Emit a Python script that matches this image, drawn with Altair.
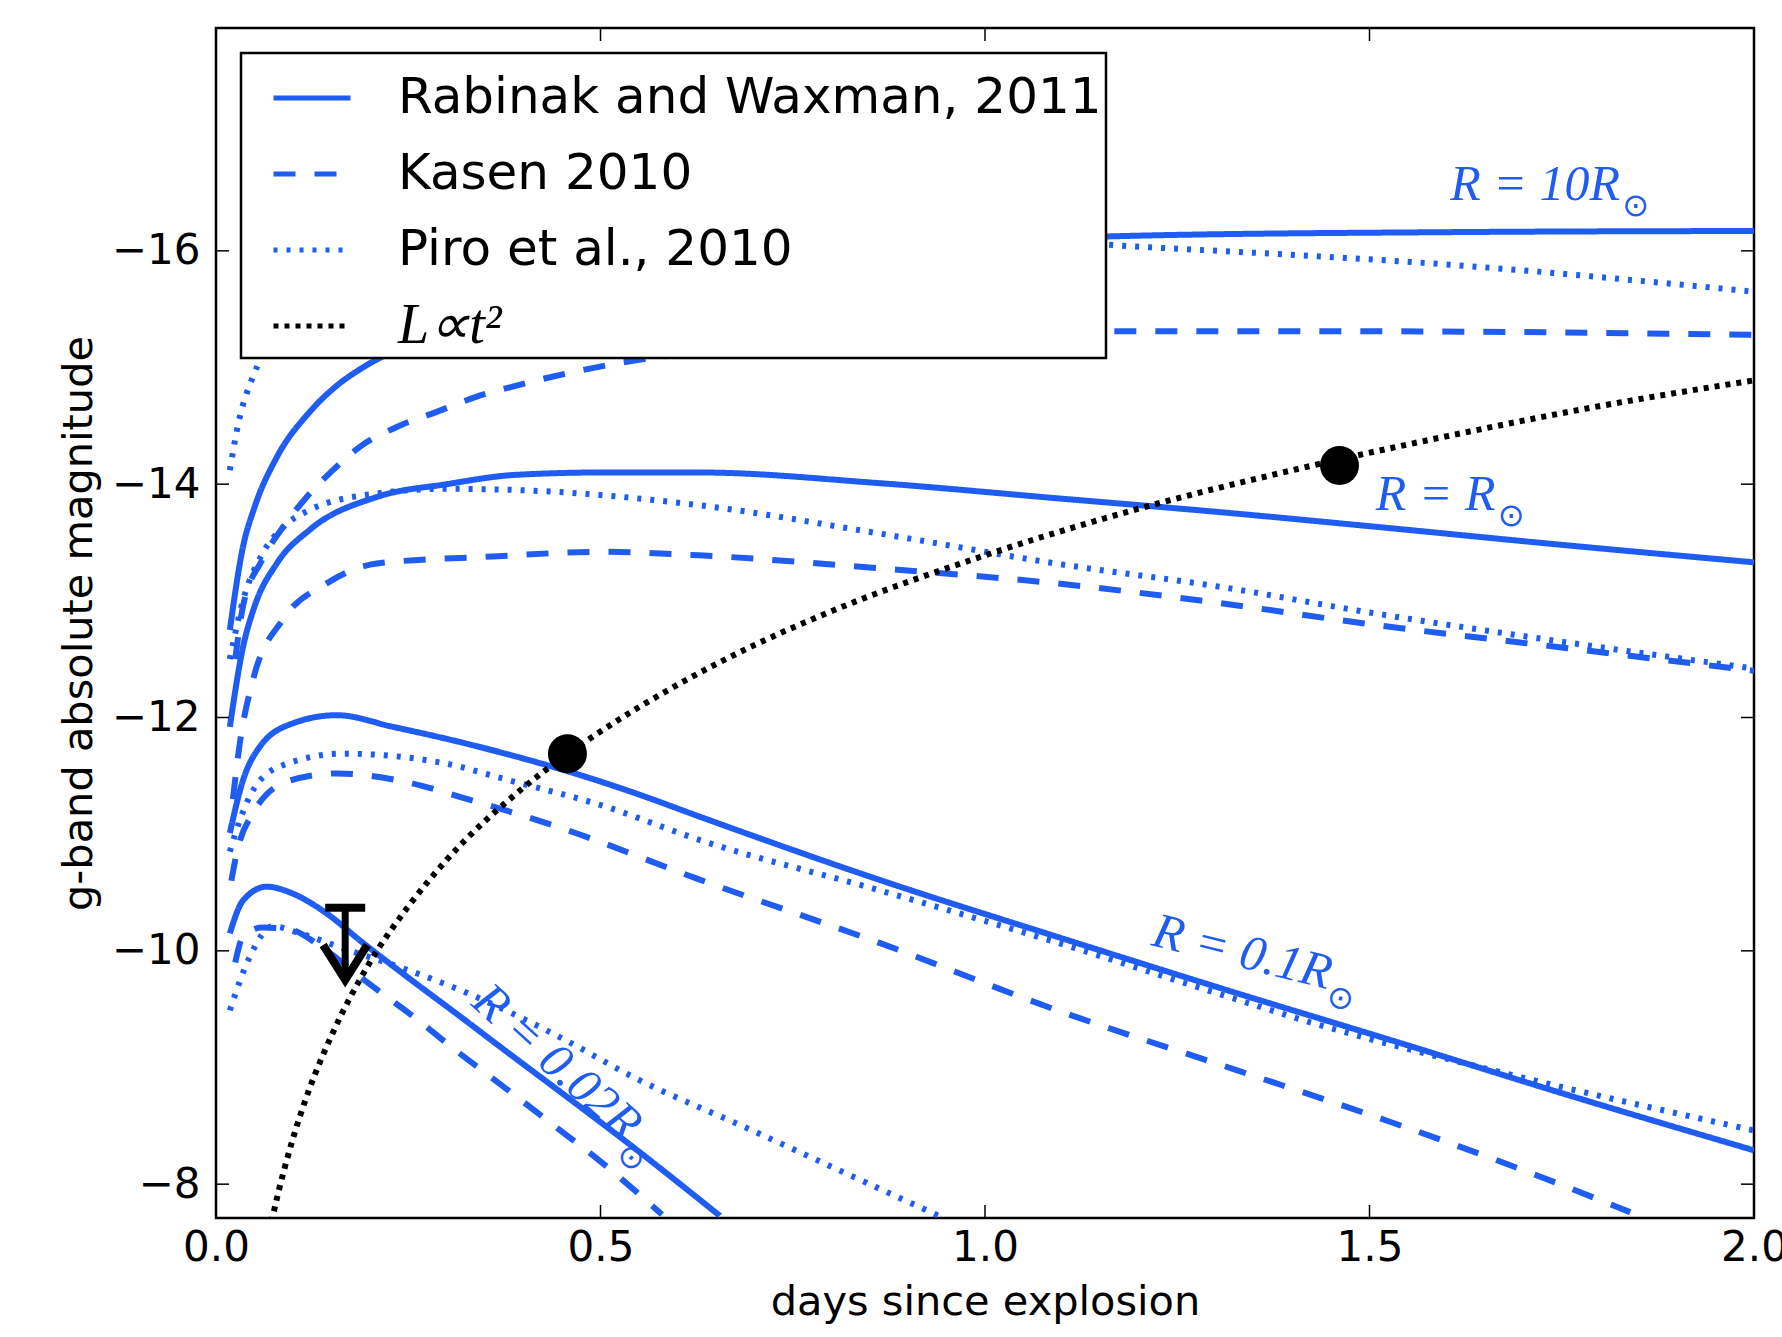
import altair as alt
import pandas as pd

BLUE = "#1f5cf2"

models = ["Rabinak and Waxman, 2011", "Kasen 2010", "Piro et al., 2010", "L∝t²"]
model_colors = [BLUE, BLUE, BLUE, "black"]
model_dashes = [[1, 0], [22, 19], [4, 9], [5, 6]]

x_ticks = [0.0, 0.5, 1.0, 1.5, 2.0]
y_ticks = [-16, -14, -12, -10, -8]

# ---- R = 10 R_sun
rw10_t = [0.018, 0.035, 0.05, 0.079, 0.122, 0.16, 0.191, 0.25, 0.3, 0.45, 0.65, 0.9, 1.2, 1.6, 2.0]
rw10_m = [-12.75, -13.46, -13.8, -14.23, -14.62, -14.86, -15.0, -15.2, -15.35, -15.68, -15.92, -16.05, -16.13, -16.16, -16.17]
ka10_t = [0.025, 0.035, 0.06, 0.087, 0.118, 0.152, 0.187, 0.235, 0.287, 0.339, 0.382, 0.517, 0.7, 0.9, 1.175, 1.5, 2.0]
ka10_m = [-12.5, -12.95, -13.35, -13.63, -13.89, -14.12, -14.32, -14.49, -14.62, -14.75, -14.83, -15.03, -15.18, -15.27, -15.31, -15.31, -15.28]
pi10_t = [0.018, 0.03, 0.048, 0.06, 0.1, 0.2, 0.4, 0.7, 1.0, 1.215, 1.607, 2.0]
pi10_m = [-14.12, -14.55, -14.92, -15.1, -15.45, -15.8, -16.0, -16.1, -16.1, -16.03, -15.88, -15.65]

# ---- R = R_sun
rw1_t = [0.018, 0.035, 0.05, 0.079, 0.122, 0.209, 0.3, 0.39, 0.5, 0.628, 0.86, 1.092, 1.306, 1.5, 1.75, 2.0]
rw1_m = [-11.92, -12.6, -12.95, -13.32, -13.61, -13.89, -14.0, -14.08, -14.1, -14.1, -14.01, -13.88, -13.76, -13.64, -13.48, -13.33]
ka1_t = [0.022, 0.031, 0.048, 0.087, 0.144, 0.209, 0.36, 0.5, 0.628, 0.86, 1.092, 1.306, 1.5, 1.75, 2.0]
ka1_m = [-11.3, -11.78, -12.32, -12.84, -13.15, -13.32, -13.38, -13.42, -13.39, -13.28, -13.15, -12.98, -12.8, -12.6, -12.4]
pi1_t = [0.018, 0.035, 0.06, 0.087, 0.122, 0.209, 0.3, 0.39, 0.628, 0.86, 1.092, 1.306, 1.5, 1.75, 2.0]
pi1_m = [-12.5, -13.0, -13.4, -13.63, -13.78, -13.92, -13.96, -13.95, -13.82, -13.58, -13.32, -13.12, -12.9, -12.65, -12.42]

# ---- R = 0.1 R_sun
rw01_t = [0.018, 0.035, 0.057, 0.1, 0.157, 0.23, 0.317, 0.382, 0.457, 0.55, 0.629, 0.862, 1.094, 1.326, 1.54, 1.75, 2.0]
rw01_m = [-11.01, -11.46, -11.75, -11.95, -12.02, -11.92, -11.79, -11.68, -11.54, -11.34, -11.15, -10.61, -10.12, -9.64, -9.21, -8.78, -8.29]
ka01_t = [0.02, 0.027, 0.048, 0.096, 0.157, 0.252, 0.317, 0.45, 0.629, 0.862, 1.094, 1.326, 1.52, 1.7, 1.839]
ka01_m = [-10.6, -10.84, -11.18, -11.46, -11.52, -11.44, -11.32, -11.05, -10.61, -10.07, -9.49, -8.98, -8.55, -8.12, -7.76]
pi01_t = [0.018, 0.031, 0.057, 0.1, 0.165, 0.295, 0.382, 0.5, 0.629, 0.862, 1.094, 1.3, 1.432, 1.658, 2.0]
pi01_m = [-10.85, -11.12, -11.46, -11.62, -11.69, -11.61, -11.46, -11.25, -10.95, -10.52, -10.07, -9.64, -9.37, -8.98, -8.46]

# ---- R = 0.02 R_sun
rw002_t = [0.018, 0.035, 0.066, 0.1, 0.144, 0.187, 0.252, 0.317, 0.369, 0.45, 0.542, 0.655]
rw002_m = [-10.15, -10.43, -10.55, -10.49, -10.32, -10.09, -9.76, -9.44, -9.18, -8.78, -8.32, -7.73]
ka002_t = [0.025, 0.035, 0.06, 0.092, 0.14, 0.187, 0.217, 0.252, 0.317, 0.369, 0.44, 0.499, 0.58]
ka002_m = [-9.9, -10.12, -10.2, -10.19, -10.02, -9.78, -9.63, -9.46, -9.12, -8.86, -8.5, -8.2, -7.74]
pi002_t = [0.018, 0.044, 0.074, 0.109, 0.17, 0.239, 0.326, 0.45, 0.542, 0.694, 0.82, 0.946]
pi002_m = [-9.49, -9.95, -10.21, -10.15, -10.01, -9.86, -9.64, -9.25, -8.92, -8.47, -8.09, -7.71]

# ---- L ∝ t^2
lt2_t = [0.066, 0.08, 0.1, 0.12, 0.15, 0.2, 0.25, 0.3, 0.4, 0.5, 0.6, 0.7, 0.8, 1.0, 1.2, 1.4, 1.6, 1.8, 2.0]
lt2_m = [-7.49, -7.90, -8.39, -8.79, -9.27, -9.90, -10.38, -10.78, -11.40, -11.88, -12.28, -12.62, -12.91, -13.39, -13.79, -14.12, -14.41, -14.67, -14.89]

# detections and upper limit
dot_t = [0.457, 1.461]
dot_m = [-11.69, -14.16]
ul_t = [0.168]
ul_top = [-10.37]
ul_tip = [-9.75]

# curve labels
lab_text = ["R = 10R", "R = R", "R = 0.1R", "R = 0.02R"]
lab_t = [1.605, 1.508, 1.215, 0.33]
lab_m = [-16.44, -13.78, -10.05, -9.54]
lab_angle = [0, 0, 14, 42]
lab_subdx = [172, 122, 184, 209]

curves = [
    (models[0], "10", rw10_t, rw10_m), (models[1], "10", ka10_t, ka10_m), (models[2], "10", pi10_t, pi10_m),
    (models[0], "1", rw1_t, rw1_m), (models[1], "1", ka1_t, ka1_m), (models[2], "1", pi1_t, pi1_m),
    (models[0], "0.1", rw01_t, rw01_m), (models[1], "0.1", ka01_t, ka01_m), (models[2], "0.1", pi01_t, pi01_m),
    (models[0], "0.02", rw002_t, rw002_m), (models[1], "0.02", ka002_t, ka002_m), (models[2], "0.02", pi002_t, pi002_m),
    (models[3], "lt2", lt2_t, lt2_m),
]
rows = []
for model, rad, ts, ms in curves:
    for t, m in zip(ts, ms):
        rows.append({"t": t, "mag": m, "model": model, "series": model + "|" + rad})
df = pd.DataFrame(rows)

W, H = 1538, 1190

xs = alt.Scale(domain=[0, 2], nice=False, zero=False)
ys = alt.Scale(domain=[-17.91, -7.71], reverse=True, nice=False, zero=False)
xaxis = alt.Axis(values=x_ticks, format=".1f", title="days since explosion", labelPadding=9,
                 labelFlush=False, labelOverlap=False, titleX=W / 2, titleY=84,
                 titleBaseline="middle", titleAlign="center")
yaxis = alt.Axis(values=y_ticks, format="d", title="g-band absolute magnitude", labelPadding=16,
                 labelOverlap=False, titleX=-137, titleY=H / 2, titleAngle=270,
                 titleBaseline="middle", titleAlign="center")


def X():
    return alt.X("t:Q", scale=xs, axis=xaxis)


def Y():
    return alt.Y("mag:Q", scale=ys, axis=yaxis)


leg = alt.Legend(
    title=None, orient="none", legendX=25, legendY=25, fillColor="white", strokeColor="black",
    padding=4, cornerRadius=0, symbolType="stroke", symbolSize=5929, symbolStrokeWidth=5,
    symbolOffset=26,
    labelColor="black", labelOffset=45, rowPadding=10, labelLimit=0, zindex=1,
    labelFontSize={"expr": "datum.label == 'L∝t²' ? 56 : 50"},
    labelFont={"expr": "datum.label == 'L∝t²' ? 'Liberation Serif' : 'DejaVu Sans'"},
    labelFontStyle={"expr": "datum.label == 'L∝t²' ? 'italic' : 'normal'"},
)

lines = alt.Chart(df).mark_line(clip=True, strokeWidth=6, strokeCap="butt", interpolate="monotone").encode(
    x=X(), y=Y(),
    color=alt.Color("model:N", scale=alt.Scale(domain=models, range=model_colors), legend=leg),
    strokeDash=alt.StrokeDash("model:N", scale=alt.Scale(domain=models, range=model_dashes), legend=leg),
    detail="series:N",
)

dots = alt.Chart(pd.DataFrame({"t": dot_t, "mag": dot_m})).mark_circle(
    size=1520, color="black", opacity=1).encode(x=X(), y=Y())

ul_df = pd.DataFrame({"t": ul_t, "mag": ul_top, "mag2": ul_tip})
ul_stem = alt.Chart(ul_df).mark_rule(color="black", strokeWidth=7).encode(x=X(), y=Y(), y2="mag2:Q")
ul_cap = alt.Chart(pd.DataFrame({"t": ul_t, "mag": ul_top})).mark_point(
    shape="M -1 0 L 1 0", size=1600, strokeWidth=8, filled=False, color="black", opacity=1
).encode(x=X(), y=Y())
ul_head = alt.Chart(pd.DataFrame({"t": ul_t, "mag": ul_tip})).mark_point(
    shape="M -0.63 -1 L 0 0 L 0.63 -1", size=4900, strokeWidth=8, filled=False, color="black",
    opacity=1, strokeJoin="miter"
).encode(x=X(), y=Y())

label_layers = []
for txt, t, m, ang, sdx in zip(lab_text, lab_t, lab_m, lab_angle, lab_subdx):
    d = pd.DataFrame({"t": [t], "mag": [m], "txt": [txt]})
    label_layers.append(alt.Chart(d).mark_text(
        font="Liberation Serif", fontStyle="italic", fontSize=50, color=BLUE, align="left",
        baseline="alphabetic", angle=ang).encode(x=X(), y=Y(), text="txt:N"))
    label_layers.append(alt.Chart(d).mark_text(
        font="DejaVu Sans", fontSize=32, color=BLUE, align="left", baseline="alphabetic",
        angle=ang, dx=sdx, dy=16, text="⊙").encode(x=X(), y=Y()))

xt = pd.DataFrame({"t": x_ticks})
yt = pd.DataFrame({"mag": y_ticks})
TL = 13
tick_layers = [
    alt.Chart(xt).mark_rule(color="black", strokeWidth=1.5).encode(x=X(), y=alt.value(H), y2=alt.value(H - TL)),
    alt.Chart(xt).mark_rule(color="black", strokeWidth=1.5).encode(x=X(), y=alt.value(0), y2=alt.value(TL)),
    alt.Chart(yt).mark_rule(color="black", strokeWidth=1.5).encode(y=Y(), x=alt.value(0), x2=alt.value(TL)),
    alt.Chart(yt).mark_rule(color="black", strokeWidth=1.5).encode(y=Y(), x=alt.value(W), x2=alt.value(W - TL)),
]

chart = alt.layer(lines, dots, ul_stem, ul_cap, ul_head, *label_layers, *tick_layers).properties(
    width=W, height=H,
    padding={"left": 216, "top": 28, "right": 28, "bottom": 119},
    autosize=alt.AutoSizeParams(type="none"),
    background="white",
).configure_view(
    stroke="black", strokeWidth=2.5
).configure_axis(
    labelFont="DejaVu Sans", labelFontSize=42, labelColor="black",
    titleFont="DejaVu Sans", titleFontSize=41.5, titleFontWeight="normal", titleColor="black",
    domain=False, ticks=False, grid=False,
).configure_legend(
    strokeWidth=2.5
)

chart.save("out.html", embed_options={"renderer": "svg", "actions": False})
